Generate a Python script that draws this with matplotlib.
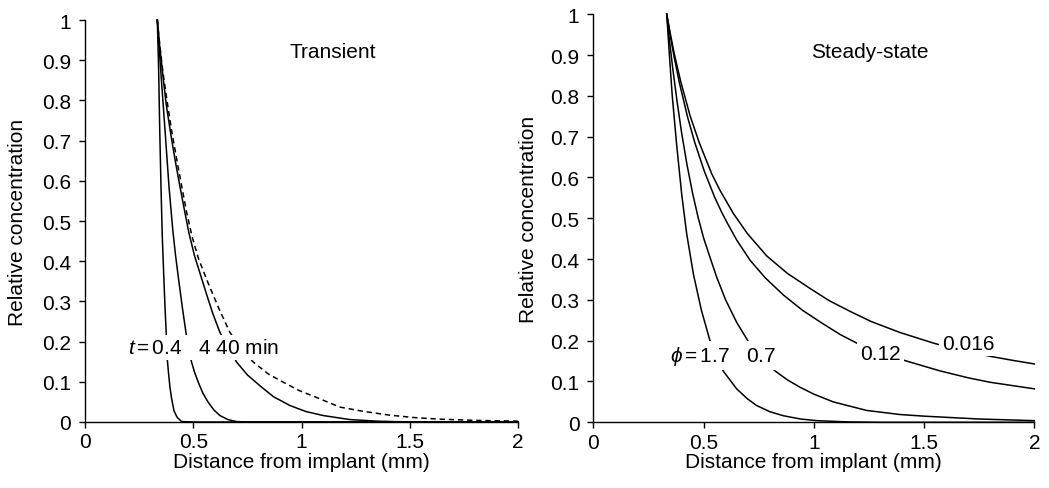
import numpy as np
import matplotlib
matplotlib.use("Agg")
import matplotlib.pyplot as plt

plt.rcParams['font.family'] = ['Liberation Sans', 'DejaVu Sans']
plt.rcParams['font.size'] = 15
plt.rcParams['mathtext.fontset'] = 'custom'
plt.rcParams['mathtext.rm'] = 'Liberation Sans'
plt.rcParams['mathtext.it'] = 'Liberation Sans:italic'

# Transient panel (distance in mm, relative concentration)
x_t04 = [0.334, 0.340, 0.345, 0.351, 0.357, 0.364, 0.370, 0.376, 0.381, 0.386, 0.392,
         0.400, 0.411, 0.425, 0.446, 0.5, 2.0]
y_t04 = [1.0, 0.88, 0.73, 0.584, 0.46, 0.36, 0.28, 0.21, 0.15, 0.12, 0.088,
         0.058, 0.028, 0.012, 0.001, 0.0, 0.0]

x_t4 = [0.334, 0.349, 0.369, 0.388, 0.405, 0.418, 0.432, 0.449, 0.466, 0.479, 0.492,
        0.507, 0.523, 0.545, 0.569, 0.595, 0.623, 0.66, 0.70, 0.75, 2.0]
y_t4 = [1.0, 0.88, 0.73, 0.585, 0.48, 0.415, 0.356, 0.287, 0.223, 0.183, 0.149,
        0.122, 0.099, 0.071, 0.049, 0.03, 0.016, 0.006, 0.001, 0.0, 0.0]

x_t40 = [0.334, 0.345, 0.358, 0.375, 0.395, 0.415, 0.437, 0.46, 0.48, 0.505, 0.531,
         0.56, 0.59, 0.623, 0.66, 0.70, 0.75, 0.808, 0.87, 0.946, 1.02, 1.10, 1.223,
         1.35, 1.5, 2.0]
y_t40 = [1.0, 0.935, 0.87, 0.79, 0.72, 0.655, 0.59, 0.525, 0.47, 0.415, 0.37,
         0.32, 0.27, 0.223, 0.185, 0.149, 0.117, 0.09, 0.063, 0.041, 0.026, 0.016, 0.006,
         0.002, 0.0, 0.0]

x_steady = [0.334, 0.345, 0.36, 0.38, 0.40, 0.423, 0.447, 0.47, 0.495, 0.525, 0.569,
            0.62, 0.669, 0.72, 0.777, 0.845, 0.915, 0.99, 1.069, 1.177, 1.29, 1.407,
            1.52, 1.638, 1.8, 2.0]
y_steady = [1.0, 0.94, 0.87, 0.795, 0.725, 0.655, 0.585, 0.52, 0.46, 0.405, 0.345,
            0.28, 0.223, 0.183, 0.149, 0.12, 0.099, 0.078, 0.061, 0.037, 0.026, 0.017,
            0.011, 0.007, 0.004, 0.002]

# Steady-state panel
x_p17 = [0.333, 0.345, 0.358, 0.378, 0.401, 0.424, 0.454, 0.49, 0.529, 0.56, 0.59,
         0.65, 0.70, 0.741, 0.80, 0.862, 0.94, 1.013, 1.15, 1.3, 2.0]
y_p17 = [1.0, 0.90, 0.80, 0.68, 0.558, 0.46, 0.363, 0.275, 0.2, 0.155, 0.125,
         0.082, 0.057, 0.041, 0.026, 0.016, 0.008, 0.004, 0.001, 0.0, 0.0]

x_p07 = [0.333, 0.345, 0.36, 0.38, 0.40, 0.425, 0.45, 0.475, 0.50, 0.53, 0.56,
         0.60, 0.65, 0.703, 0.76, 0.824, 0.88, 0.937, 1.0, 1.088, 1.16, 1.24, 1.391,
         1.5, 1.75, 2.0]
y_p07 = [1.0, 0.938, 0.868, 0.786, 0.711, 0.631, 0.562, 0.503, 0.452, 0.403, 0.355,
         0.30, 0.245, 0.198, 0.16, 0.126, 0.104, 0.086, 0.069, 0.05, 0.04, 0.029, 0.019,
         0.015, 0.008, 0.004]

x_p012 = [0.333, 0.35, 0.366, 0.39, 0.428, 0.46, 0.503, 0.55, 0.582, 0.608, 0.65,
          0.711, 0.78, 0.862, 0.95, 1.043, 1.12, 1.202, 1.3, 1.421, 1.572, 1.70, 1.80,
          1.9, 2.0]
y_p012 = [1.0, 0.945, 0.897, 0.833, 0.747, 0.686, 0.616, 0.552, 0.515, 0.488, 0.447,
          0.397, 0.354, 0.312, 0.274, 0.241, 0.215, 0.192, 0.172, 0.150, 0.126, 0.109, 0.098,
          0.09, 0.082]

x_p0016 = [0.333, 0.35, 0.366, 0.396, 0.439, 0.48, 0.537, 0.575, 0.635, 0.698, 0.786,
           0.88, 0.983, 1.07, 1.164, 1.26, 1.391, 1.549, 1.68, 1.807, 1.9, 2.0]
y_p0016 = [1.0, 0.95, 0.906, 0.836, 0.751, 0.686, 0.609, 0.568, 0.512, 0.463, 0.408,
           0.365, 0.328, 0.298, 0.272, 0.247, 0.22, 0.193, 0.175, 0.161, 0.152, 0.143]

x_ticks = [0, 0.5, 1, 1.5, 2]
x_ticklabels = ['0', '0.5', '1', '1.5', '2']
y_ticks = [i / 10 for i in range(11)]
y_ticklabels = ['0'] + ['0.%d' % i for i in range(1, 10)] + ['1']

fig = plt.figure(figsize=(10.49, 4.89), dpi=100)
ax1 = fig.add_axes([0.081, 0.135, 0.413, 0.822])
ax2 = fig.add_axes([0.5656, 0.1344, 0.4204, 0.8343])

lw = 1.1
ax1.plot(x_t04, y_t04, color='black', lw=lw, clip_on=False)
ax1.plot(x_t4, y_t4, color='black', lw=lw, clip_on=False)
ax1.plot(x_t40, y_t40, color='black', lw=lw, clip_on=False)
ax1.plot(x_steady, y_steady, color='black', lw=lw, ls=(0, (3.5, 2.5)), clip_on=False)

ax2.plot(x_p17, y_p17, color='black', lw=lw, clip_on=False)
ax2.plot(x_p07, y_p07, color='black', lw=lw, clip_on=False)
ax2.plot(x_p012, y_p012, color='black', lw=lw, clip_on=False)
ax2.plot(x_p0016, y_p0016, color='black', lw=lw, clip_on=False)

box = dict(boxstyle='square,pad=0.15', fc='white', ec='none')
ax1.text(0.2, 0.186, r'$t\,$=$\,$0.4   4 40 min', ha='left', va='center', bbox=box, zorder=5)
ax1.text(1.145, 0.921, 'Transient', ha='center', va='center')

ax2.text(0.348, 0.163, r'$\phi\,$=$\,$1.7   0.7', ha='left', va='center', bbox=box, zorder=5)
ax2.text(1.209, 0.169, '0.12', ha='left', va='center', bbox=box, zorder=5)
ax2.text(1.58, 0.194, '0.016', ha='left', va='center', bbox=box, zorder=5)
ax2.text(1.255, 0.909, 'Steady-state', ha='center', va='center')

for ax, ylx in ((ax1, -0.134), (ax2, -0.125)):
    ax.set_xlim(0, 2)
    ax.set_ylim(0, 1)
    ax.set_xticks(x_ticks)
    ax.set_xticklabels(x_ticklabels)
    ax.set_yticks(y_ticks)
    ax.set_yticklabels(y_ticklabels)
    ax.spines['top'].set_visible(False)
    ax.spines['right'].set_visible(False)
    ax.spines['left'].set_linewidth(1)
    ax.spines['bottom'].set_linewidth(1)
    ax.tick_params(axis='y', direction='out', length=4, width=1, pad=6)
    ax.tick_params(axis='x', direction='out', length=4, width=1, pad=3.5)
    ax.set_xlabel('Distance from implant (mm)')
    ax.set_ylabel('Relative concentration')
    ax.xaxis.set_label_coords(0.5, -0.074)
    ax.xaxis.label.set_va('top')
    ax.yaxis.set_label_coords(ylx, 0.5)

fig.savefig('out.png', dpi=100)
